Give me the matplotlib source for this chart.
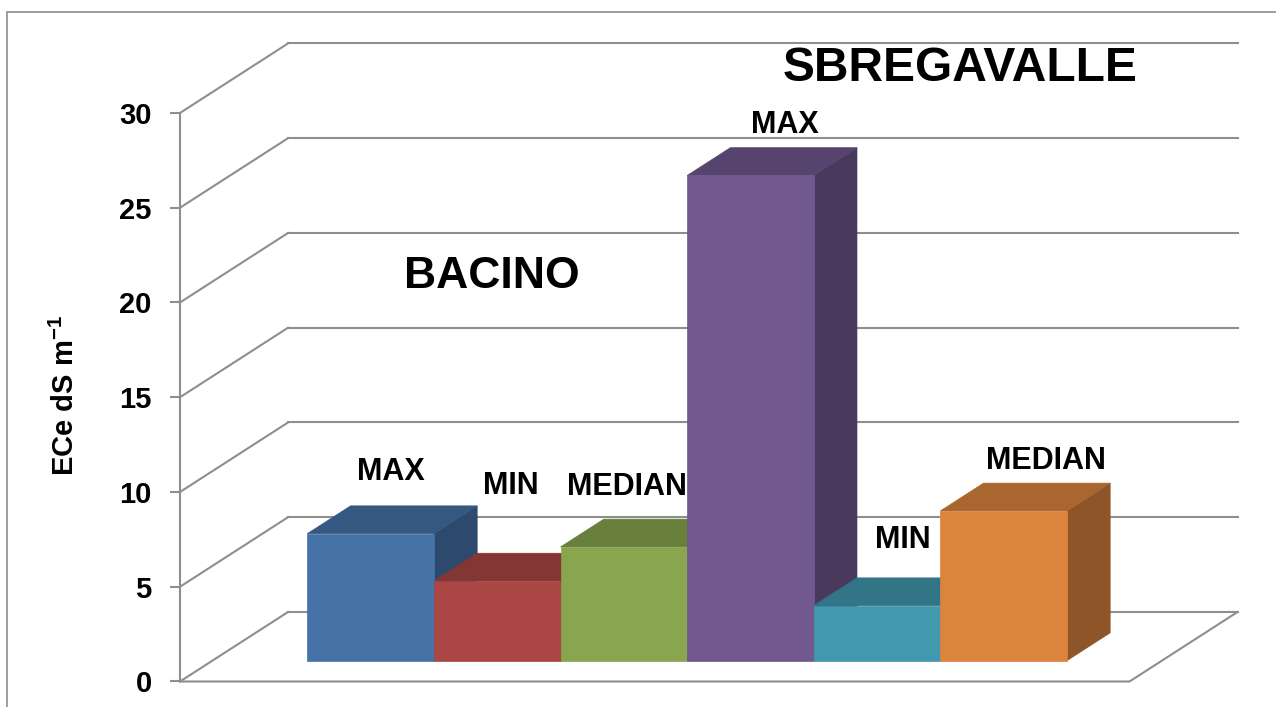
import matplotlib.pyplot as plt
from matplotlib.patches import Polygon, Rectangle
from matplotlib.colors import to_rgb
import numpy as np

plt.rcParams['font.family'] = ['Liberation Sans', 'DejaVu Sans']
plt.rcParams['mathtext.fontset'] = 'custom'
plt.rcParams['mathtext.rm'] = 'Liberation Sans'
plt.rcParams['mathtext.bf'] = 'Liberation Sans:bold'

# data
categories = ['MAX', 'MIN', 'MEDIAN', 'MAX', 'MIN', 'MEDIAN']
group_names = ['BACINO', 'SBREGAVALLE']
values = [6.7, 4.2, 6.0, 25.6, 2.9, 7.9]
bar_colors = ['#4572A7', '#AA4643', '#89A54E', '#71588F', '#4198AF', '#DB843D']
yticks = [0, 5, 10, 15, 20, 25, 30]

# layout of the fake 3d box (oblique projection)
DX, DY = 0.853, 3.667      # shift for the full depth of the floor
T_FRONT, T_BACK = 0.3, 0.7  # depth span of the bars
X_LO, X_HI = -1.25, 6.25   # floor extent in category units
GRID = '#8E8E8E'

# label placement: offset from bar index (x) and absolute height (y)
label_dx = [0.417, 0.365, 0.281, 0.525, 0.461, 0.586]
label_y = [11.06, 10.32, 10.24, 29.38, 7.47, 11.65]
group_pos = [(1.214, 21.35), (4.911, 32.37)]


def proj(x, v, t):
    return x + t * DX, v + t * DY


def shade(c, f):
    r, g, b = to_rgb(c)
    return (r * f, g * f, b * f)


fig = plt.figure(figsize=(12.76, 7.07), dpi=100)
ax = fig.add_axes([0, 0, 1, 1])
ax.set_xlim(-2.672, 7.407)
ax.set_ylim(-1.346, 35.96)

# walls and floor
for v in yticks:
    x0, y0 = proj(X_LO, v, 1)
    x1, y1 = proj(X_HI, v, 1)
    ax.plot([x0, x1], [y0, y1], color=GRID, lw=1.5, zorder=1)
    xa, ya = proj(X_LO, v, 0)
    ax.plot([xa, x0], [ya, y0], color=GRID, lw=1.5, zorder=1)
fx0, fy0 = proj(X_LO, 0, 0)
fx1, fy1 = proj(X_HI, 0, 0)
bx1, by1 = proj(X_HI, 0, 1)
ax.plot([fx0, fx1, bx1], [fy0, fy1, by1], color=GRID, lw=1.5, zorder=1)

# bars: front faces as real bars, top and side faces as polygons
x = np.arange(len(values))
fx, fy = proj(x, 0, T_FRONT)
ax.bar(fx, values, width=1.0, bottom=fy, color=bar_colors,
       edgecolor=bar_colors, linewidth=0.5, zorder=3)
for i, v in enumerate(values):
    l, r = i - 0.5, i + 0.5
    top = [proj(l, v, T_FRONT), proj(r, v, T_FRONT),
           proj(r, v, T_BACK), proj(l, v, T_BACK)]
    side = [proj(r, 0, T_FRONT), proj(r, v, T_FRONT),
            proj(r, v, T_BACK), proj(r, 0, T_BACK)]
    c_side = shade(bar_colors[i], 0.65)
    c_top = shade(bar_colors[i], 0.77)
    ax.add_patch(Polygon(side, closed=True, fc=c_side, ec=c_side, lw=0.5, zorder=2))
    ax.add_patch(Polygon(top, closed=True, fc=c_top, ec=c_top, lw=0.5, zorder=2))

# labels
for i, name in enumerate(categories):
    ax.text(i + label_dx[i], label_y[i], name, ha='center', va='center',
            fontsize=22, fontweight='bold', zorder=4)
for name, (gx, gy) in zip(group_names, group_pos):
    ax.text(gx, gy, name, ha='center', va='center',
            fontsize=32 if name == 'BACINO' else 34.5,
            fontweight='bold', zorder=4)

# y axis
for s in ['top', 'right', 'bottom']:
    ax.spines[s].set_visible(False)
ax.spines['left'].set_position(('data', X_LO))
ax.spines['left'].set_bounds(0, 30)
ax.spines['left'].set_color(GRID)
ax.spines['left'].set_linewidth(1.5)
ax.set_xticks([])
ax.set_yticks(yticks)
ax.tick_params(axis='y', direction='out', length=7.2, width=1.5, color=GRID,
               labelsize=21, pad=13.2)
for lab in ax.get_yticklabels():
    lab.set_fontweight('bold')
ax.patch.set_visible(False)

fig.text(0.051, 0.441, r'ECe dS m$^{\mathbf{-1}}$', rotation=90, ha='center',
         va='center', fontsize=21, fontweight='bold')

# chart area border
fig.patches.append(Rectangle((7 / 1276, -0.1), 1.2, 1.1 - 12 / 707,
                             transform=fig.transFigure, fill=False,
                             ec=GRID, lw=1.2))

fig.savefig('out.png', dpi=100)
